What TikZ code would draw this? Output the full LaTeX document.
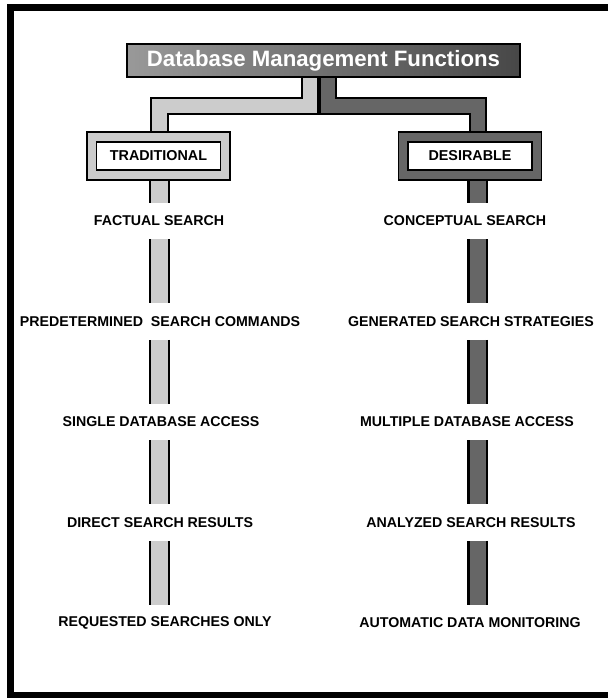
\documentclass[tikz,border=0pt]{standalone}
\usepackage{fontspec}
\setmainfont{Liberation Sans}
\definecolor{lightbar}{gray}{0.80}
\definecolor{darkbar}{gray}{0.40}
\tikzset{
  item/.style={font=\bfseries\fontsize{10.1}{11}\selectfont,inner sep=0pt,minimum height=0.9cm},
  link/.style={draw=black,line width=0.05cm,double distance=0.35cm},
  stem/.style={draw=black,line width=0.06cm,double distance=0.4cm},
  sidebox/.style={draw=black,fill=white,line width=0.04cm,double distance=0.2cm,
    minimum width=3.33cm,minimum height=0.95cm,inner sep=0pt,outer sep=0.14cm,
    font=\bfseries\fontsize{10.2}{12}\selectfont}
}
\begin{document}
\begin{tikzpicture}[x=0.025cm,y=-0.025cm]
\useasboundingbox (0,0) rectangle (608,698);
%frame
\draw[line width=0.16cm] (608,7.5)--(10.5,7.5)--(10.5,695.5)--(608,695.5);
%title
\node[draw=black,line width=0.05cm,left color=black!40,right color=black!72,
  minimum width=9.83cm,minimum height=0.83cm,inner sep=0pt,text=white,
  font=\bfseries\fontsize{15.8}{17}\selectfont] (title) at (323.5,60.5) {Database Management Functions};
%columns
\coordinate (lcol) at (159.5,0);
\coordinate (rcol) at (477.5,0);
\coordinate (lj) at (309.5,105.5);
\coordinate (rj) at (327.5,105.5);
%boxes
\node[sidebox,double=lightbar] (trad) at (158.5,156) {TRADITIONAL};
\node[sidebox,double=darkbar] (desir) at (470,156) {DESIRABLE};
%links
\draw[link,double=lightbar] (title.south -| lj)--(lj)-|(trad.north -| lcol);
\draw[link,double=darkbar] (title.south -| rj)--(rj)-|(desir.north -| rcol);
%items
\foreach \i/\x/\t in {1/159/FACTUAL SEARCH,2/160/PREDETERMINED~ SEARCH COMMANDS,
  3/161/SINGLE DATABASE ACCESS,4/160/DIRECT SEARCH RESULTS,5/165/REQUESTED SEARCHES ONLY}
  {\node[item] (l\i) at (\x,{221+100.5*(\i-1)}) {\t};}
\foreach \i/\x/\t in {1/465/CONCEPTUAL SEARCH,2/471/GENERATED SEARCH STRATEGIES,
  3/467/MULTIPLE DATABASE ACCESS,4/471/ANALYZED SEARCH RESULTS,5/470/AUTOMATIC DATA MONITORING}
  {\node[item] (r\i) at (\x,{221+100.5*(\i-1)}) {\t};}
%stems
\draw[stem,double=lightbar] (trad.south -| lcol)--(l1.north -| lcol);
\draw[stem,double=darkbar] (desir.south -| rcol)--(r1.north -| rcol);
\foreach \i/\j in {1/2,2/3,3/4,4/5}{
  \draw[stem,double=lightbar] (l\i.south -| lcol)--(l\j.north -| lcol);
  \draw[stem,double=darkbar] (r\i.south -| rcol)--(r\j.north -| rcol);
}
\end{tikzpicture}
\end{document}
